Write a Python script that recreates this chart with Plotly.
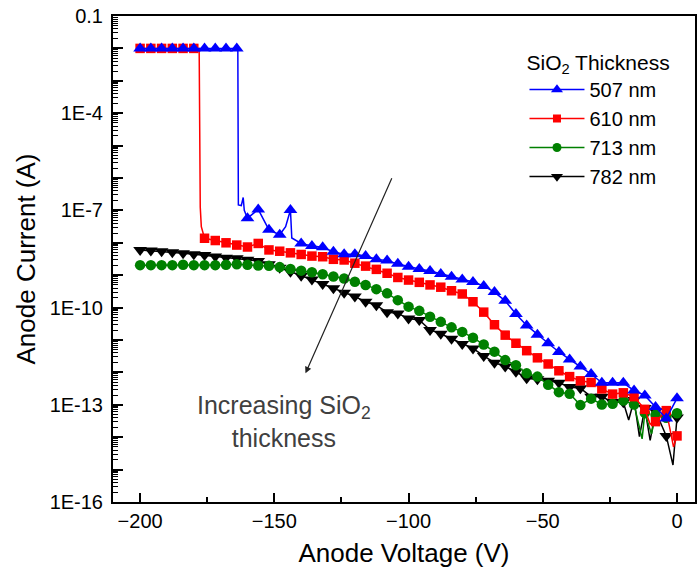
import plotly.graph_objects as go

# Anode voltage of the plotted (symbol) points, V
voltage = [-200, -196, -192, -188, -184, -180, -176, -172, -168, -164,
           -160, -156, -152, -148, -144, -140, -136, -132, -128, -124,
           -120, -116, -112, -108, -104, -100, -96, -92, -88, -84,
           -80, -76, -72, -68, -64, -60, -56, -52, -48, -44,
           -40, -36, -32, -28, -24, -20, -16, -12, -8, -4, 0]

# log10 of anode current (A)
log_i_507 = [-2.0, -2.0, -2.0, -2.0, -2.0, -2.0, -2.0, -2.0, -2.0, -2.0,
             -7.24, -6.97, -7.60, -7.75, -6.99, -8.02, -8.10, -8.14, -8.28, -8.35,
             -8.35, -8.41, -8.51, -8.55, -8.65, -8.74, -8.81, -8.87, -8.96, -9.05,
             -9.13, -9.21, -9.33, -9.52, -9.79, -10.20, -10.55, -10.84, -11.10, -11.37,
             -11.60, -11.82, -12.05, -12.32, -12.32, -12.32, -12.56, -12.71, -13.07, -13.42, -12.80]

log_i_610 = [-2.0, -2.0, -2.0, -2.0, -2.0, -2.0, -7.86, -7.93, -8.00, -8.07,
             -8.13, -8.02, -8.22, -8.26, -8.31, -8.36, -8.41, -8.43, -8.51, -8.53,
             -8.63, -8.72, -8.82, -8.94, -9.07, -9.15, -9.22, -9.30, -9.37, -9.48,
             -9.58, -9.82, -10.14, -10.53, -10.85, -11.10, -11.33, -11.55, -11.74, -11.95,
             -12.13, -12.26, -12.31, -12.51, -12.67, -12.63, -12.75, -13.14, -13.52, -13.18, -13.96]

log_i_713 = [-8.69, -8.69, -8.69, -8.69, -8.68, -8.69, -8.69, -8.69, -8.68, -8.66,
             -8.68, -8.70, -8.71, -8.75, -8.81, -8.86, -8.91, -8.97, -9.04, -9.10,
             -9.20, -9.30, -9.43, -9.56, -9.77, -9.97, -10.10, -10.28, -10.44, -10.61,
             -10.75, -10.93, -11.14, -11.36, -11.62, -11.78, -12.03, -12.13, -12.38, -12.61,
             -12.66, -13.01, -12.81, -12.99, -12.97, -12.87, -12.99, -13.25, -13.31, -13.40, -13.26]

log_i_782 = [-8.22, -8.24, -8.26, -8.29, -8.32, -8.35, -8.38, -8.42, -8.46, -8.48,
             -8.52, -8.56, -8.66, -8.77, -8.89, -9.02, -9.13, -9.27, -9.40, -9.54,
             -9.66, -9.82, -9.93, -10.14, -10.18, -10.34, -10.38, -10.69, -10.81, -10.96,
             -11.12, -11.26, -11.49, -11.70, -11.82, -11.98, -12.18, -12.21, -12.26, -12.32,
             -12.45, -12.49, -12.75, -12.75, -12.91, -12.92, -12.85, -13.10, -13.20, -13.96, -13.39]

# extra measured points that only show in the connecting line (voltage, log10 current)
line_extra_507 = [(-163.6, -2.0), (-163.4, -6.83), (-162.3, -6.85), (-161.6, -6.6),
                  (-161.2, -7.0), (-145.8, -7.5), (-143.5, -7.85)]
line_extra_610 = [(-178.0, -2.0), (-177.6, -6.9), (-177.2, -7.5), (-10.0, -13.6), (-1.3, -14.3)]
line_extra_713 = [(-13.0, -14.05), (-9.5, -13.9)]
line_extra_782 = [(-18.0, -13.47), (-14.0, -13.98), (-10.0, -14.1), (-1.5, -14.86)]

labels = ["507 nm", "610 nm", "713 nm", "782 nm"]
colors = ["#0000FF", "#FF0000", "#008000", "#000000"]
symbols = ["triangle-up", "square", "circle", "triangle-down"]
sizes = [12, 9.5, 10.5, 12]

y_tick_exp = [-1, -2, -3, -4, -5, -6, -7, -8, -9, -10, -11, -12, -13, -14, -15, -16]
y_tick_text = {-1: "0.1", -4: "1E-4", -7: "1E-7", -10: "1E-10", -13: "1E-13", -16: "1E-16"}

series = [log_i_507, log_i_610, log_i_713, log_i_782]
extras = [line_extra_507, line_extra_610, line_extra_713, line_extra_782]

fig = go.Figure()

# draw order: 782 at the bottom, 507 on top
for k in [3, 2, 1, 0]:
    pts = sorted(list(zip(voltage, series[k])) + extras[k])
    fig.add_trace(go.Scatter(
        x=[p[0] for p in pts], y=[10 ** p[1] for p in pts], mode="lines",
        line=dict(color=colors[k], width=1.5), showlegend=False, hoverinfo="skip"))
    fig.add_trace(go.Scatter(
        x=voltage, y=[10 ** v for v in series[k]], mode="markers",
        marker=dict(color=colors[k], symbol=symbols[k], size=sizes[k], line=dict(width=0)),
        showlegend=False))

# legend entries
for k in range(4):
    fig.add_trace(go.Scatter(
        x=[None], y=[None], mode="lines+markers", name=labels[k],
        line=dict(color=colors[k], width=1.5),
        marker=dict(color=colors[k], symbol=symbols[k], size=sizes[k] - 1.5, line=dict(width=0))))

minor_vals = []
for e in range(-16, -1):
    for m in range(2, 10):
        minor_vals.append(m * 10.0 ** e)

font_family = "Liberation Sans, Arial, sans-serif"

fig.update_layout(
    width=698, height=579,
    margin=dict(l=113, r=1, t=16, b=77),
    paper_bgcolor="white", plot_bgcolor="white",
    font=dict(family=font_family, color="black", size=20),
    showlegend=True,
    legend=dict(
        title=dict(text="SiO<sub>2</sub> Thickness", font=dict(size=21)),
        x=0.707, y=0.945, xanchor="left", yanchor="top",
        bgcolor="rgba(0,0,0,0)", borderwidth=0, itemwidth=55,
        font=dict(size=20), traceorder="normal"),
    xaxis=dict(
        range=[-210.1, 6.7], tick0=0, dtick=50,
        ticks="inside", ticklen=9, tickwidth=1.5, tickcolor="black",
        minor=dict(dtick=25, tick0=0, ticks="inside", ticklen=5, tickwidth=1.5, tickcolor="black"),
        showline=True, linewidth=2, linecolor="black", mirror=True,
        showgrid=False, zeroline=False,
        tickfont=dict(size=20),
        title=dict(text="Anode Voltage (V)", font=dict(size=26), standoff=13)),
    yaxis=dict(
        type="log", range=[-16, -1],
        tickmode="array",
        tickvals=[10.0 ** e for e in y_tick_exp],
        ticktext=[y_tick_text.get(e, "") for e in y_tick_exp],
        ticks="inside", ticklen=10, tickwidth=1.5, tickcolor="black",
        minor=dict(tickmode="array", tickvals=minor_vals, ticks="inside",
                   ticklen=5, tickwidth=1, tickcolor="black"),
        showline=True, linewidth=2, linecolor="black", mirror=True,
        showgrid=False, zeroline=False,
        tickfont=dict(size=20), ticklabelstandoff=4,
        title=dict(text="Anode Current (A)", font=dict(size=26), standoff=7)),
)

# arrow
fig.add_annotation(
    x=-138.4, y=-12.03, ax=-106.0, ay=-5.96, xref="x", yref="y", axref="x", ayref="y",
    text="", showarrow=True, arrowhead=2, arrowsize=1.1, arrowwidth=1.2, arrowcolor="#222222")

fig.add_annotation(
    x=-146.5, y=-13.5, xref="x", yref="y", showarrow=False,
    text="Increasing SiO<sub>2</sub><br>thickness",
    font=dict(size=25, color="#404040", family=font_family),
    xanchor="center", yanchor="middle", align="center")

fig.write_html("out.html")
